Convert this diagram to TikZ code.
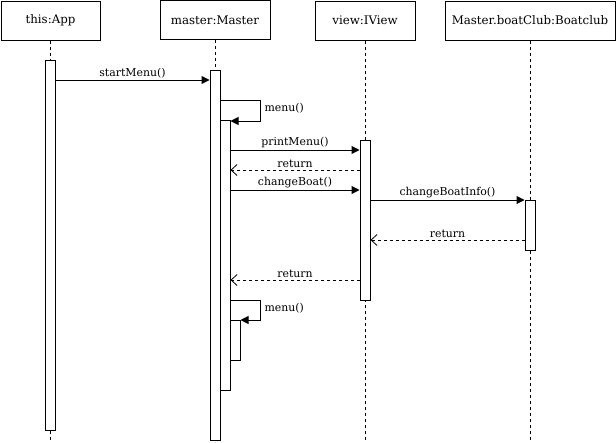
\documentclass[tikz,border=0pt]{standalone}
\usepackage{fontspec}
\setmainfont{DejaVu Serif}
\usetikzlibrary{arrows.meta}

\begin{document}
\begin{tikzpicture}[x=1pt, y=-1pt]
    \tikzset{
      actor/.style={rectangle, draw, line width=1pt, minimum height=39pt,
                    inner sep=0pt, font=\fontsize{11.8}{14}\selectfont},
      bar/.style={rectangle, draw, fill=white, line width=1pt,
                  minimum width=10pt, inner sep=0pt},
      life/.style={line width=1pt, dash pattern=on 3pt off 3pt},
      call/.style={line width=1pt, -{Triangle[length=8pt,width=8pt]}},
      reply/.style={line width=0.8pt, dash pattern=on 3pt off 3pt,
                    -{Straight Barb[length=6pt,width=11pt]}},
      lbl/.style={font=\fontsize{10.9}{12}\selectfont, inner sep=1.5pt},
      loop/.style={lbl, below right, xshift=2pt, yshift=-1pt}
    }
    \useasboundingbox (0,0) rectangle (616,442);

    \node[actor, minimum width=99pt] (app) at (50.5,20.5) {this:App};
    \node[actor, minimum width=110pt] (master) at (215,20) {master:Master};
    \node[actor, minimum width=100pt] (view) at (365,20.5) {view:IView};
    \node[actor, minimum width=170pt] (club) at (530,20.5) {Master.boatClub:Boatclub};

    % Lineas de vida
    \coordinate (bottom) at (0,442);
    \draw[life] (app.south) -- (app.south |- bottom);
    \draw[life] (master.south) -- (master.south |- bottom);
    \draw[life] (view.south) -- (view.south |- bottom);
    \draw[life] (club.south) -- (club.south |- bottom);

    % Activaciones
    \node[bar, minimum height=370pt] (appbar) at (50,245) {};
    \node[bar, minimum height=370pt] (mbar) at (215,255) {};
    \node[bar, minimum height=270pt] (mbar2) at (225,255) {};
    \node[bar, minimum height=40pt] (mbar3) at (235,340) {};
    \node[bar, minimum height=160pt] (vbar) at (365,220) {};
    \node[bar, minimum height=50pt] (cbar) at (530,225) {};

    % Mensajes
    \draw[call] (appbar.east |- 0,80) -- node[lbl, above] {startMenu()} (mbar.west |- 0,80);
    \draw[call] (mbar.east |- 0,100) -- ++(40,0) node[loop] {menu()}
      |- (mbar2.east |- 0,121);
    \draw[call] (mbar2.east |- 0,150) -- node[lbl, above] {printMenu()} (vbar.west |- 0,150);
    \draw[reply] (vbar.west |- 0,170) -- node[lbl, above] {return} (mbar2.east |- 0,170);
    \draw[call] (mbar2.east |- 0,190) -- node[lbl, above] {changeBoat()} (vbar.west |- 0,190);
    \draw[call] (vbar.east |- 0,200) -- node[lbl, above] {changeBoatInfo()} (cbar.west |- 0,200);
    \draw[reply] (cbar.west |- 0,240) -- node[lbl, above] {return} (vbar.east |- 0,240);
    \draw[reply] (vbar.west |- 0,280) -- node[lbl, above] {return} (mbar2.east |- 0,280);
    \draw[call] (mbar2.east |- 0,300) -- ++(30,0) node[loop] {menu()}
      |- (mbar3.east |- 0,320);
  \end{tikzpicture}
\end{document}
